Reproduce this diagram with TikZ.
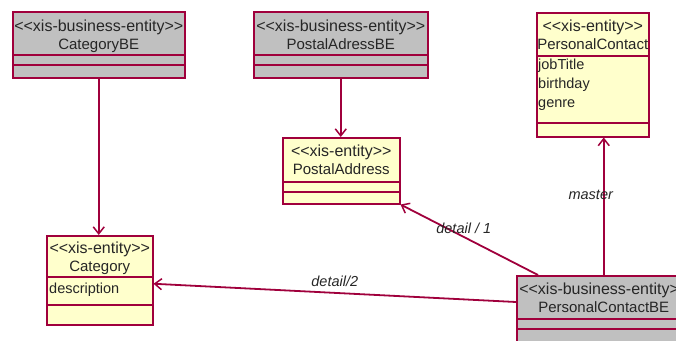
\documentclass[tikz,border=0pt]{standalone}
\usepackage{fontspec}
\newfontfamily\umlfont{Liberation Sans}[Ligatures=TeXOff]
\usepackage{tikz}
\usetikzlibrary{arrows.meta}
\definecolor{umlred}{RGB}{160,0,60}
\definecolor{umlyellow}{RGB}{255,255,204}
\definecolor{umlgray}{RGB}{192,192,192}
\newcommand{\stereo}[1]{{\fontsize{16}{17}\selectfont #1}}
\tikzstyle{beclass} = [rectangle, draw=umlred, fill=umlgray, line width=1.5pt, inner sep=0pt, anchor=north west]
\tikzstyle{entclass} = [rectangle, draw=umlred, fill=umlyellow, line width=1.5pt, inner sep=0pt, anchor=north west]
\tikzstyle{divider} = [draw=umlred, line width=1.2pt]
\tikzstyle{header} = [font=\umlfont\fontsize{15}{18}\selectfont, text=black!85, align=center, inner sep=0pt, anchor=north]
\tikzstyle{attrs} = [font=\umlfont\fontsize{14.5}{19}\selectfont, text=black!85, align=left, inner sep=0pt, anchor=north west]
\tikzstyle{role} = [font=\umlfont\itshape\fontsize{14.5}{17}\selectfont, text=black!85, inner sep=0pt]
\tikzstyle{nav} = [draw=umlred, line width=1.8pt, -{Straight Barb[length=7pt,width=11pt,line width=1.5pt]}]

\begin{document}
\begin{tikzpicture}[x=1pt, y=-1pt]
        \useasboundingbox (0,0) rectangle (676,340);
        \clip (0,0) rectangle (676,340);
        % Classes
        \node (catbe) [beclass, minimum width=172pt, minimum height=66pt] at (12,11) {};
        \node (pabe) [beclass, minimum width=174pt, minimum height=66pt] at (253,11) {};
        \node (pc) [entclass, minimum width=112pt, minimum height=124pt] at (536,12) {};
        \node (pa) [entclass, minimum width=117pt, minimum height=66pt] at (282,137) {};
        \node (cat) [entclass, minimum width=106pt, minimum height=89pt] at (46,235) {};
        \node (pcbe) [beclass, minimum width=174pt, minimum height=68pt] at (516,275) {};

        % Compartments
        \draw [divider] ([yshift=-44pt]catbe.north west) -- ([yshift=-44pt]catbe.north east);
        \draw [divider] ([yshift=-54pt]catbe.north west) -- ([yshift=-54pt]catbe.north east);
        \draw [divider] ([yshift=-44pt]pabe.north west) -- ([yshift=-44pt]pabe.north east);
        \draw [divider] ([yshift=-54pt]pabe.north west) -- ([yshift=-54pt]pabe.north east);
        \draw [divider] ([yshift=-44pt]pc.north west) -- ([yshift=-44pt]pc.north east);
        \draw [divider] ([yshift=-111pt]pc.north west) -- ([yshift=-111pt]pc.north east);
        \draw [divider] ([yshift=-45pt]pa.north west) -- ([yshift=-45pt]pa.north east);
        \draw [divider] ([yshift=-55pt]pa.north west) -- ([yshift=-55pt]pa.north east);
        \draw [divider] ([yshift=-42pt]cat.north west) -- ([yshift=-42pt]cat.north east);
        \draw [divider] ([yshift=-70pt]cat.north west) -- ([yshift=-70pt]cat.north east);
        \draw [divider] ([yshift=-44pt]pcbe.north west) -- ([yshift=-44pt]pcbe.north east);
        \draw [divider] ([yshift=-54pt]pcbe.north west) -- ([yshift=-54pt]pcbe.north east);

        % Names
        \node (catbe-name) [header] at ([yshift=-9pt]catbe.north) {\stereo{<<xis-business-entity>>}\\CategoryBE};
        \node (pabe-name) [header] at ([yshift=-9pt]pabe.north) {\stereo{<<xis-business-entity>>}\\PostalAdressBE};
        \node (pc-name) [header] at ([yshift=-8pt]pc.north) {\stereo{<<xis-entity>>}\\PersonalContact};
        \node (pa-name) [header] at ([yshift=-8pt]pa.north) {\stereo{<<xis-entity>>}\\PostalAddress};
        \node (cat-name) [header] at ([yshift=-7pt]cat.north) {\stereo{<<xis-entity>>}\\Category};
        \node (pcbe-name) [header] at ([yshift=-8pt]pcbe.north) {\stereo{<<xis-business-entity>>}\\PersonalContactBE};

        % Attributes
        \node (pc-attr) [attrs] at ([xshift=2pt,yshift=-47pt]pc.north west) {jobTitle\\birthday\\genre};
        \node (cat-attr) [attrs] at ([xshift=3pt,yshift=-48pt]cat.north west) {description};

        % Associations
        \draw [nav] (catbe.south) -- (catbe.south |- cat.north);
        \draw [nav] (pabe.south) -- (pabe.south |- pa.north);
        \draw [nav] (pcbe.north) -- (pcbe.north |- pc.south) node [role, pos=0.58, xshift=-13pt] {master};
        \draw [nav] ([xshift=22pt]pcbe.north west) -- (pa.south east) node [role, pos=0.54, yshift=9pt] {detail / 1};
        \draw [nav] ([yshift=-27pt]pcbe.north west) -- ([yshift=-3.5pt]cat.east) node [role, pos=0.5, yshift=12pt] {detail/2};
    \end{tikzpicture}
\end{document}
